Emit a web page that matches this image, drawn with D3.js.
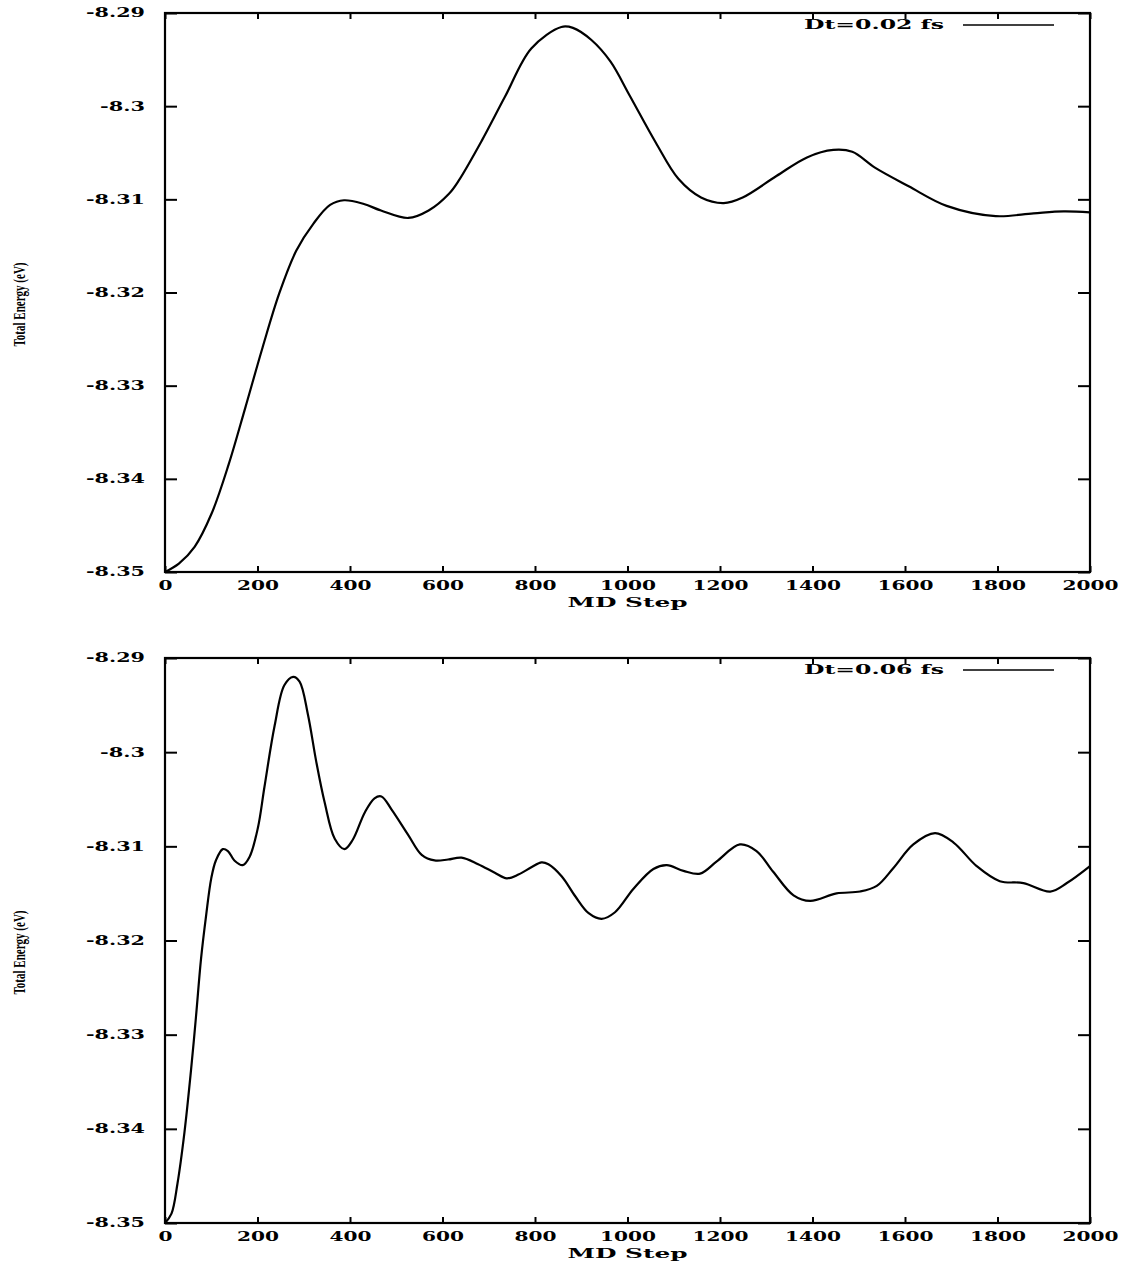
<!DOCTYPE html>
<html>
<head>
<meta charset="utf-8">
<script src="https://cdn.jsdelivr.net/npm/d3@7"></script>
<style>
  html, body { margin: 0; padding: 0; background: #fff; }
  svg { display: block; }
</style>
</head>
<body>
<div id="chart"></div>
<script>
// MD run, time step 0.02 fs
const steps02 = [0, 30, 64, 101, 138, 174, 211, 247, 284, 321, 357, 387, 430, 467, 526, 570, 614, 635, 685,
  735, 792, 857, 882, 922, 963, 1004, 1061, 1110, 1159, 1208, 1249, 1322, 1388, 1445, 1486, 1535, 1608,
  1690, 1796, 1878, 1943, 2000];
const energy02 = [-8.3500, -8.3491, -8.3473, -8.3437, -8.3384, -8.3323, -8.3259, -8.3201, -8.3155, -8.3126,
  -8.3106, -8.3101, -8.3105, -8.3112, -8.3120, -8.3112, -8.3094, -8.3080, -8.3037, -8.2990, -8.2938,
  -8.2915, -8.2916, -8.2929, -8.2952, -8.2988, -8.3039, -8.3078, -8.3098, -8.3104, -8.3098, -8.3075,
  -8.3055, -8.3047, -8.3049, -8.3066, -8.3086, -8.3107, -8.3118, -8.3115, -8.3113, -8.3114];

// MD run, time step 0.06 fs
const steps06 = [0, 14, 27, 42, 56, 67, 78, 89, 100, 110, 125, 136, 150, 168, 183, 201, 215, 237, 258, 277,
  291, 309, 327, 345, 367, 388, 406, 432, 453, 468, 490, 526, 555, 583, 612, 641, 677, 713, 739, 764, 793,
  814, 829, 858, 887, 916, 944, 973, 1013, 1056, 1085, 1121, 1157, 1193, 1243, 1279, 1315, 1359, 1395,
  1452, 1503, 1539, 1575, 1618, 1665, 1705, 1755, 1805, 1856, 1914, 1950, 2000];
const energy06 = [-8.3500, -8.3490, -8.3458, -8.3404, -8.3339, -8.3281, -8.3219, -8.3173, -8.3134, -8.3115,
  -8.3103, -8.3105, -8.3115, -8.3120, -8.3111, -8.3080, -8.3037, -8.2972, -8.2929, -8.2920, -8.2925,
  -8.2960, -8.3010, -8.3053, -8.3092, -8.3103, -8.3093, -8.3064, -8.3049, -8.3047, -8.3061, -8.3088,
  -8.3109, -8.3115, -8.3114, -8.3112, -8.3119, -8.3128, -8.3134, -8.3130, -8.3122, -8.3117, -8.3119,
  -8.3132, -8.3153, -8.3171, -8.3177, -8.3170, -8.3145, -8.3124, -8.3120, -8.3126, -8.3129, -8.3116,
  -8.3098, -8.3105, -8.3127, -8.3152, -8.3158, -8.3150, -8.3148, -8.3142, -8.3123, -8.3098, -8.3086,
  -8.3096, -8.3121, -8.3137, -8.3139, -8.3148, -8.3139, -8.3121];

const xTicks = [0, 200, 400, 600, 800, 1000, 1200, 1400, 1600, 1800, 2000];
const yTicks = [-8.35, -8.34, -8.33, -8.32, -8.31, -8.3, -8.29];
const yTickLabels = ['-8.35', '-8.34', '-8.33', '-8.32', '-8.31', '-8.3', '-8.29'];
const legendLabels = ['Dt=0.02 fs', 'Dt=0.06 fs'];
const xTitle = 'MD Step';
const yTitle = 'Total Energy (eV)';

const width = 1136, height = 1264;
const panels = [
  {steps: steps02, energy: energy02, label: legendLabels[0], top: 13, bottom: 572},
  {steps: steps06, energy: energy06, label: legendLabels[1], top: 658, bottom: 1223}
];
const left = 165, right = 1090;
const tickFont = 'DejaVu Serif, serif';

// wide bold print look: fix each label's length by its characters
function labelLength(s) {
  let w = 0;
  for (const c of s) w += c === '.' ? 7 : c === '-' ? 10 : c === ' ' ? 7 : c === '=' ? 16 : 14;
  return w;
}

const svg = d3.select('#chart').append('svg')
  .attr('width', width)
  .attr('height', height);

panels.forEach(p => {
  const x = d3.scaleLinear().domain([0, 2000]).range([left, right]);
  const y = d3.scaleLinear().domain([-8.35, -8.29]).range([p.bottom, p.top]);
  const g = svg.append('g');

  const styleTicks = sel => {
    sel.select('.domain').remove();
    sel.selectAll('line').attr('stroke', '#000').attr('stroke-width', 2);
    sel.selectAll('text')
      .attr('fill', '#000')
      .style('font-family', tickFont)
      .style('font-size', '12px')
      .style('font-weight', 'bold')
      .each(function () {
        const t = d3.select(this).text();
        if (t) d3.select(this).attr('textLength', labelLength(t)).attr('lengthAdjust', 'spacingAndGlyphs');
      });
  };

  g.append('g')
    .attr('transform', `translate(0,${p.bottom})`)
    .call(d3.axisBottom(x).tickValues(xTicks).tickFormat(d3.format('d'))
      .tickSizeInner(-6).tickSizeOuter(0).tickPadding(9))
    .call(styleTicks);

  g.append('g')
    .attr('transform', `translate(0,${p.top})`)
    .call(d3.axisTop(x).tickValues(xTicks).tickFormat('')
      .tickSizeInner(-6).tickSizeOuter(0))
    .call(styleTicks);

  g.append('g')
    .attr('transform', `translate(${left},0)`)
    .call(d3.axisLeft(y).tickValues(yTicks).tickFormat((d, i) => yTickLabels[i])
      .tickSizeInner(-12).tickSizeOuter(0).tickPadding(20))
    .call(styleTicks);

  g.append('g')
    .attr('transform', `translate(${right},0)`)
    .call(d3.axisRight(y).tickValues(yTicks).tickFormat('')
      .tickSizeInner(-12).tickSizeOuter(0))
    .call(styleTicks);

  // frame
  g.append('rect')
    .attr('x', left).attr('y', p.top)
    .attr('width', right - left).attr('height', p.bottom - p.top)
    .attr('fill', 'none').attr('stroke', '#000').attr('stroke-width', 2.2);

  const line = d3.line()
    .x((d, i) => x(p.steps[i]))
    .y(d => y(d))
    .curve(d3.curveCatmullRom.alpha(0.5));

  g.append('path')
    .datum(p.energy)
    .attr('d', line)
    .attr('fill', 'none')
    .attr('stroke', '#000')
    .attr('stroke-width', 2.2);

  // legend
  g.append('text')
    .attr('x', 804).attr('y', p.top + 16)
    .attr('textLength', 140).attr('lengthAdjust', 'spacingAndGlyphs')
    .style('font-family', tickFont).style('font-size', '12px').style('font-weight', 'bold')
    .text(p.label);
  g.append('line')
    .attr('x1', 963).attr('x2', 1054)
    .attr('y1', p.top + 12).attr('y2', p.top + 12)
    .attr('stroke', '#000').attr('stroke-width', 1.5);

  // axis titles
  g.append('text')
    .attr('x', (left + right) / 2).attr('y', p.bottom + 35)
    .attr('text-anchor', 'middle')
    .attr('textLength', 120).attr('lengthAdjust', 'spacingAndGlyphs')
    .style('font-family', tickFont).style('font-size', '13px').style('font-weight', 'bold')
    .text(xTitle);

  const cy = (p.top + p.bottom) / 2 + 12;
  g.append('text')
    .attr('transform', `translate(25,${cy}) rotate(-90)`)
    .attr('text-anchor', 'middle')
    .attr('textLength', 84).attr('lengthAdjust', 'spacingAndGlyphs')
    .style('font-family', 'Liberation Serif, serif').style('font-size', '17px').style('font-weight', 'bold')
    .text(yTitle);
});
</script>
</body>
</html>
